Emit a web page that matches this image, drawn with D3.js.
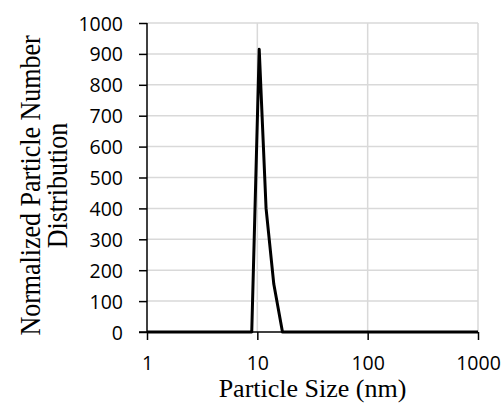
<!DOCTYPE html>
<html>
<head>
<meta charset="utf-8">
<script src="https://cdn.jsdelivr.net/npm/d3@7"></script>
<style>
  body { margin: 0; background: #fff; }
</style>
</head>
<body>
<div id="chart"></div>
<script>
// particle size (nm) and normalized number distribution
const sizes = [1, 8.9, 10.4, 12.0, 14.1, 16.9, 1000];
const counts = [0, 0, 915, 400, 155, 0, 0];
const xTicks = [1, 10, 100, 1000];
const yTicks = [0, 100, 200, 300, 400, 500, 600, 700, 800, 900, 1000];

const data = sizes.map((s, i) => ({ size: s, count: counts[i] }));

const margin = { top: 23, right: 25, bottom: 71, left: 147 };
const width = 503 - margin.left - margin.right;
const height = 403 - margin.top - margin.bottom;

const svg = d3.select("#chart")
    .append("svg")
    .attr("width", 503)
    .attr("height", 403)
    .append("g")
    .attr("transform", "translate(" + margin.left + "," + margin.top + ")");

const xScale = d3.scaleLog().domain([1, 1000]).range([0, width]);
const yScale = d3.scaleLinear().domain([0, 1000]).range([height, 0]);

// gridlines
svg.append("g")
    .selectAll("line")
    .data(yTicks.filter(d => d > 0))
    .join("line")
    .attr("x1", 0).attr("x2", width)
    .attr("y1", d => yScale(d)).attr("y2", d => yScale(d))
    .attr("stroke", "#d9d9d9").attr("stroke-width", 1.5);

svg.append("g")
    .selectAll("line")
    .data(xTicks.filter(d => d > 1))
    .join("line")
    .attr("x1", d => xScale(d)).attr("x2", d => xScale(d))
    .attr("y1", 0).attr("y2", height)
    .attr("stroke", "#d9d9d9").attr("stroke-width", 1.5);

// axes
const xAxis = svg.append("g")
    .attr("transform", "translate(0," + height + ")")
    .call(d3.axisBottom(xScale).tickValues(xTicks).tickFormat(d3.format("d")).tickSize(8).tickPadding(16));

const yAxis = svg.append("g")
    .call(d3.axisLeft(yScale).tickValues(yTicks).tickFormat(d3.format("d")).tickSize(8).tickPadding(16));

[xAxis, yAxis].forEach(a => {
    a.select(".domain").attr("stroke", "#000").attr("stroke-width", 1.5);
    a.selectAll(".tick line").attr("stroke", "#000").attr("stroke-width", 1.5);
    a.selectAll(".tick text")
        .attr("fill", "#000")
        .style("font-family", "'Open Sans', sans-serif")
        .style("font-size", "19.5px");
});
yAxis.selectAll(".tick text").attr("dy", "0.36em");
xAxis.select(".domain").attr("d", "M-8,0H" + width);
yAxis.select(".domain").attr("d", "M0,0V" + height);

// line
const line = d3.line()
    .x(d => xScale(d.size))
    .y(d => yScale(d.count));

svg.append("path")
    .datum(data)
    .attr("d", line)
    .attr("fill", "none")
    .attr("stroke", "#000")
    .attr("stroke-width", 3)
    .attr("stroke-linejoin", "round");

// axis titles
svg.append("text")
    .attr("x", width / 2)
    .attr("y", height + 65)
    .attr("text-anchor", "middle")
    .style("font-family", "'Liberation Serif', 'Times New Roman', serif")
    .style("font-size", "26px")
    .text("Particle Size (nm)");

const yTitle = svg.append("text")
    .attr("transform", "translate(" + (-107) + "," + (height / 2 + 8) + ") rotate(-90) scale(1,1.12)")
    .attr("text-anchor", "middle")
    .style("font-family", "'Liberation Serif', 'Times New Roman', serif")
    .style("font-size", "26px");
yTitle.append("tspan").attr("x", 0).attr("dy", 0).text("Normalized Particle Number");
yTitle.append("tspan").attr("x", 0).attr("dy", 24).text("Distribution");
</script>
</body>
</html>
